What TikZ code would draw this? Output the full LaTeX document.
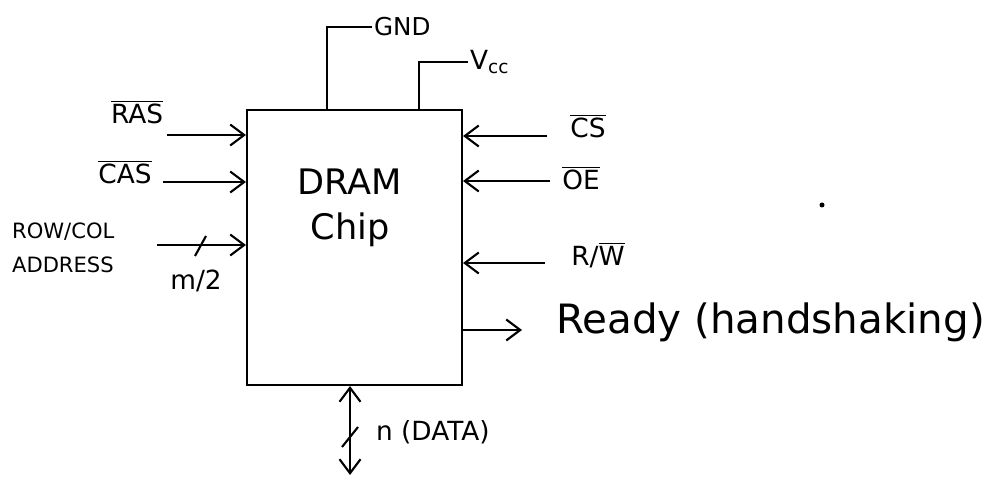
\documentclass[tikz,border=0pt]{standalone}
\usepackage{fontspec}
\setmainfont{DejaVu Sans}
\usepackage{tikz}
\usetikzlibrary{arrows.meta,positioning}
\tikzstyle{chipbox} = [rectangle, draw=black, line width=1.2pt, minimum width=4.3cm, minimum height=5.5cm, inner sep=0pt]
\tikzstyle{sig} = [-{Straight Barb[length=2.8mm,width=4.2mm]}, line width=1.2pt]
\tikzstyle{bisig} = [{Straight Barb[length=2.8mm,width=4.2mm]}-{Straight Barb[length=2.8mm,width=4.2mm]}, line width=1.2pt]
\tikzstyle{wire} = [line width=1.2pt]
\tikzstyle{pinlabel} = [inner sep=1pt, font=\fontsize{15}{17}\selectfont]
\newcommand{\activelow}[1]{$\overline{\hbox{#1}}$}

\begin{document}
\begin{tikzpicture}[x=0.02cm, y=-0.02cm]
\useasboundingbox (0,0) rectangle (988,479);
\node[chipbox] (chip) at (354.5,247.5) {};
\node[font=\fontsize{20}{26}\selectfont, align=center] (chipname) at (350,208) {DRAM\\Chip};

% supply pins
\node[pinlabel, anchor=west, font=\fontsize{14}{16}\selectfont] (gnd) at (372,27) {GND};
\node[pinlabel, anchor=west] (vcc) at (468,62) {V$_{\mathrm{cc}}$};
\draw[wire] ([xshift=1.62cm]chip.north west) |- (gnd.west);
\draw[wire] ([xshift=3.46cm]chip.north west) |- (vcc.west);

% inputs on the left
\node[pinlabel] (ras) at (137,112) {\activelow{RAS}};
\node[pinlabel] (cas) at (125,172) {\activelow{CAS}};
\node[pinlabel, anchor=west, align=left, font=\fontsize{12}{19}\selectfont] (addr) at (10,248) {ROW/COL\\ADDRESS};
\node[pinlabel] (width) at (196,281) {m/2};
\coordinate (rasin) at (167,135);
\coordinate (casin) at (163,182);
\coordinate (addrin) at (157,245);
\draw[sig] (rasin) -- (rasin -| chip.west);
\draw[sig] (casin) -- (casin -| chip.west);
\draw[sig] (addrin) -- (addrin -| chip.west);
\draw[wire] (195,256) -- (206,236);

% inputs on the right
\node[pinlabel] (cs) at (588,126) {\activelow{CS}};
\node[pinlabel] (oe) at (581,178) {\activelow{OE}};
\node[pinlabel] (rw) at (598,255) {R/\activelow{W}};
\coordinate (csin) at (547,136);
\coordinate (oein) at (550,181);
\coordinate (rwin) at (545,263);
\draw[sig] (csin) -- (csin -| chip.east);
\draw[sig] (oein) -- (oein -| chip.east);
\draw[sig] (rwin) -- (rwin -| chip.east);

% output
\node[pinlabel, anchor=west, font=\fontsize{23}{27}\selectfont] (ready) at (554,322) {Ready (handshaking)};
\coordinate (readyout) at (522,330);
\draw[sig] (readyout -| chip.east) -- (readyout);
\fill (822,205) circle (2.5);

% data bus
\coordinate (dataout) at (350,475);
\node[pinlabel, anchor=west] (data) at (374,432) {n (DATA)};
\draw[bisig] (dataout |- chip.south) -- (dataout);
\draw[wire] (342,447) -- (358,427);
\end{tikzpicture}
\end{document}
